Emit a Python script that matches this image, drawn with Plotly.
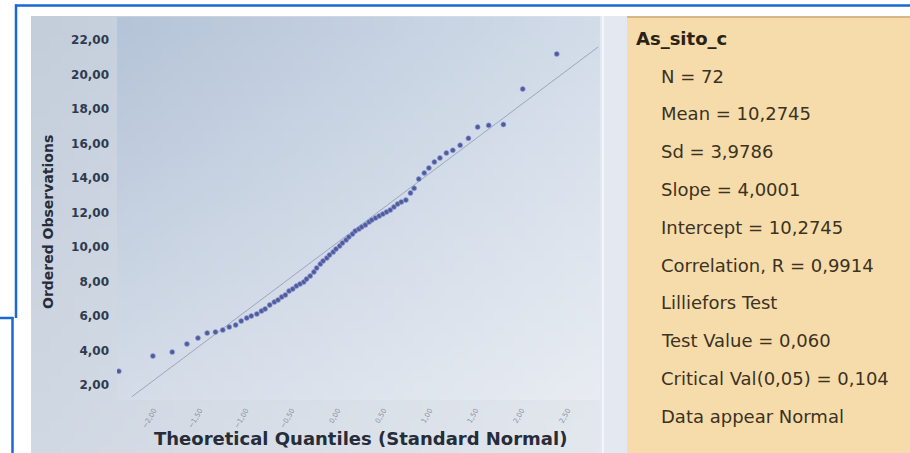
import base64, struct, zlib
import plotly.graph_objects as go

# ---------------- data ----------------
theoretical_q = [-2.38, -2.01, -1.80, -1.64, -1.52, -1.42, -1.33, -1.25, -1.18, -1.11,
                 -1.05, -0.99, -0.94, -0.88, -0.83, -0.79, -0.74, -0.69, -0.65, -0.61,
                 -0.57, -0.53, -0.49, -0.45, -0.41, -0.37, -0.34, -0.30, -0.26, -0.23,
                 -0.19, -0.16, -0.12, -0.09, -0.05, -0.02, 0.02, 0.05, 0.09, 0.12,
                 0.16, 0.19, 0.23, 0.26, 0.30, 0.34, 0.37, 0.41, 0.45, 0.49,
                 0.53, 0.57, 0.61, 0.65, 0.69, 0.74, 0.79, 0.83, 0.88, 0.94,
                 0.99, 1.05, 1.11, 1.18, 1.25, 1.33, 1.42, 1.52, 1.64, 1.80,
                 2.01, 2.38]
ordered_obs = [2.80, 3.68, 3.91, 4.38, 4.72, 5.01, 5.07, 5.19, 5.36, 5.48,
               5.71, 5.88, 6.00, 6.12, 6.29, 6.41, 6.64, 6.81, 6.93, 7.10,
               7.22, 7.45, 7.57, 7.74, 7.86, 7.97, 8.14, 8.32, 8.55, 8.78,
               9.01, 9.19, 9.36, 9.54, 9.71, 9.88, 10.06, 10.23, 10.41, 10.58,
               10.75, 10.93, 11.04, 11.16, 11.28, 11.45, 11.57, 11.68, 11.80, 11.91,
               12.03, 12.14, 12.32, 12.49, 12.61, 12.72, 13.13, 13.40, 13.94, 14.29,
               14.58, 14.93, 15.16, 15.45, 15.60, 15.90, 16.30, 16.95, 17.05, 17.10,
               19.16, 21.19]
slope = 4.0001
intercept = 10.2745
line_x_ends = [-2.24, 2.83]
x_ticks = [-2.0, -1.5, -1.0, -0.5, 0.0, 0.5, 1.0, 1.5, 2.0, 2.5]
y_ticks = [2, 4, 6, 8, 10, 12, 14, 16, 18, 20, 22]
series_name = "As_sito_c"
stats_lines = ["N = 72", "Mean = 10,2745", "Sd = 3,9786", "Slope = 4,0001",
               "Intercept = 10,2745", "Correlation, R = 0,9914", "Lilliefors Test",
               "Test Value = 0,060", "Critical Val(0,05) = 0,104", "Data appear Normal"]

W, H = 910, 453
# plot-area pixel box
PL, PR, PT, PB = 117, 600, 17, 400


def gradient_png(w, h, c00, c10, c01, c11):
    raw = b""
    for j in range(h):
        v = j / (h - 1)
        row = bytearray(b"\x00")
        for i in range(w):
            u = i / (w - 1)
            px = []
            for k in range(3):
                top = c00[k] * (1 - u) + c10[k] * u
                bot = c01[k] * (1 - u) + c11[k] * u
                px.append(int(round(top * (1 - v) + bot * v)))
            row += bytes(px)
        raw += bytes(row)

    def chunk(t, d):
        return struct.pack(">I", len(d)) + t + d + struct.pack(">I", zlib.crc32(t + d) & 0xffffffff)

    png = (b"\x89PNG\r\n\x1a\n" + chunk(b"IHDR", struct.pack(">IIBBBBB", w, h, 8, 2, 0, 0, 0))
           + chunk(b"IDAT", zlib.compress(raw)) + chunk(b"IEND", b""))
    return "data:image/png;base64," + base64.b64encode(png).decode()


# paper coordinates are relative to the plot area
def px_x(p):
    return (p - PL) / (PR - PL)


def px_y(p):
    return (PB - p) / (PB - PT)


def dx(p):
    return p / (PR - PL)


def dy(p):
    return p / (PB - PT)


fig = go.Figure()

line_y = [intercept + slope * x for x in line_x_ends]
fig.add_trace(go.Scatter(x=line_x_ends, y=line_y, mode="lines",
                         line=dict(color="#9aa6c0", width=1), hoverinfo="skip",
                         showlegend=False))
fig.add_trace(go.Scatter(x=theoretical_q, y=ordered_obs, mode="markers",
                         marker=dict(size=5, color="#505c98",
                                     line=dict(color="rgba(150,160,230,0.6)", width=1)),
                         showlegend=False))

images = [
    # whole chart panel (left + bottom)
    dict(source=gradient_png(48, 32, (196, 206, 219), (218, 225, 234),
                             (208, 216, 227), (228, 232, 238)),
         xref="paper", yref="paper", x=px_x(31), y=px_y(16),
         sizex=dx(627 - 31), sizey=dy(H - 16), sizing="stretch",
         xanchor="left", yanchor="top", layer="below"),
    # plot area
    dict(source=gradient_png(48, 32, (181, 196, 216), (210, 220, 233),
                             (212, 220, 232), (232, 236, 242)),
         xref="paper", yref="paper", x=px_x(PL), y=px_y(PT),
         sizex=dx(PR - PL), sizey=dy(PB - PT), sizing="stretch",
         xanchor="left", yanchor="top", layer="below"),
]

shapes = [
    # light strip between plot and stats panel
    dict(type="rect", xref="paper", yref="paper", x0=px_x(PR), x1=px_x(627),
         y0=px_y(H), y1=px_y(16), fillcolor="#e4e9f1", line=dict(width=0), layer="below"),
    dict(type="line", xref="paper", yref="paper", x0=px_x(603), x1=px_x(603),
         y0=px_y(H), y1=px_y(16), line=dict(color="#f4f6fb", width=2), layer="below"),
    # stats panel
    dict(type="rect", xref="paper", yref="paper", x0=px_x(627), x1=px_x(W),
         y0=px_y(H), y1=px_y(16), fillcolor="#f6dcab", line=dict(width=0), layer="below"),
    dict(type="line", xref="paper", yref="paper", x0=px_x(627), x1=px_x(W),
         y0=px_y(17), y1=px_y(17), line=dict(color="#d6b784", width=2), layer="below"),
    # blue window frames
    dict(type="line", xref="paper", yref="paper", x0=px_x(15), x1=px_x(W),
         y0=px_y(5.5), y1=px_y(5.5), line=dict(color="#1a68d6", width=2.5)),
    dict(type="line", xref="paper", yref="paper", x0=px_x(16), x1=px_x(16),
         y0=px_y(4.5), y1=px_y(318), line=dict(color="#1a68d6", width=2.5)),
    dict(type="line", xref="paper", yref="paper", x0=px_x(0), x1=px_x(13.5),
         y0=px_y(318), y1=px_y(318), line=dict(color="#1a68d6", width=2.5)),
    dict(type="line", xref="paper", yref="paper", x0=px_x(12.5), x1=px_x(12.5),
         y0=px_y(317), y1=px_y(H), line=dict(color="#1a68d6", width=2.5)),
]

annotations = [
    dict(text="Theoretical Quantiles (Standard Normal)", xref="paper", yref="paper",
         x=px_x(360), y=px_y(438), xanchor="center", yanchor="middle", showarrow=False,
         font=dict(family="DejaVu Sans", size=18, color="#262c38", weight="bold")),
    dict(text="Ordered Observations", xref="paper", yref="paper", textangle=-90,
         x=px_x(48), y=px_y(222), xanchor="center", yanchor="middle", showarrow=False,
         font=dict(family="DejaVu Sans", size=14, color="#262c38", weight="bold")),
    dict(text=series_name, xref="paper", yref="paper", x=px_x(634), y=px_y(38),
         xanchor="left", yanchor="middle", showarrow=False,
         font=dict(family="DejaVu Sans", size=18, color="#2a2214", weight="bold")),
]
for k, s in enumerate(stats_lines):
    annotations.append(dict(text=s, xref="paper", yref="paper", x=px_x(659),
                            y=px_y(76 + k * 37.8), xanchor="left", yanchor="middle",
                            showarrow=False,
                            font=dict(family="DejaVu Sans", size=18, color="#3b3222")))

fig.update_layout(
    width=W, height=H, autosize=False,
    margin=dict(l=PL, r=W - PR, t=PT, b=H - PB, pad=0),
    paper_bgcolor="white", plot_bgcolor="rgba(0,0,0,0)",
    separators=", ",
    images=images, shapes=shapes, annotations=annotations,
    xaxis=dict(range=[-2.40, 2.85], tickvals=x_ticks, tickformat=".2f", tickangle=-60,
               showgrid=False, zeroline=False, showline=False, ticks="",
               tickfont=dict(family="DejaVu Sans", size=7, color="#8a92a6"),
               ticklabelstandoff=4),
    yaxis=dict(range=[1.13, 23.33], tickvals=y_ticks, tickformat=".2f",
               showgrid=False, zeroline=False, showline=False, ticks="",
               tickfont=dict(family="DejaVu Sans", size=12, color="#2f3a4f", weight="bold"),
               ticklabelstandoff=7),
    hovermode=False,
)

fig.write_html("out.html", config={"displayModeBar": False},
               post_script="document.body.style.margin='0';document.body.style.overflow='hidden';")
